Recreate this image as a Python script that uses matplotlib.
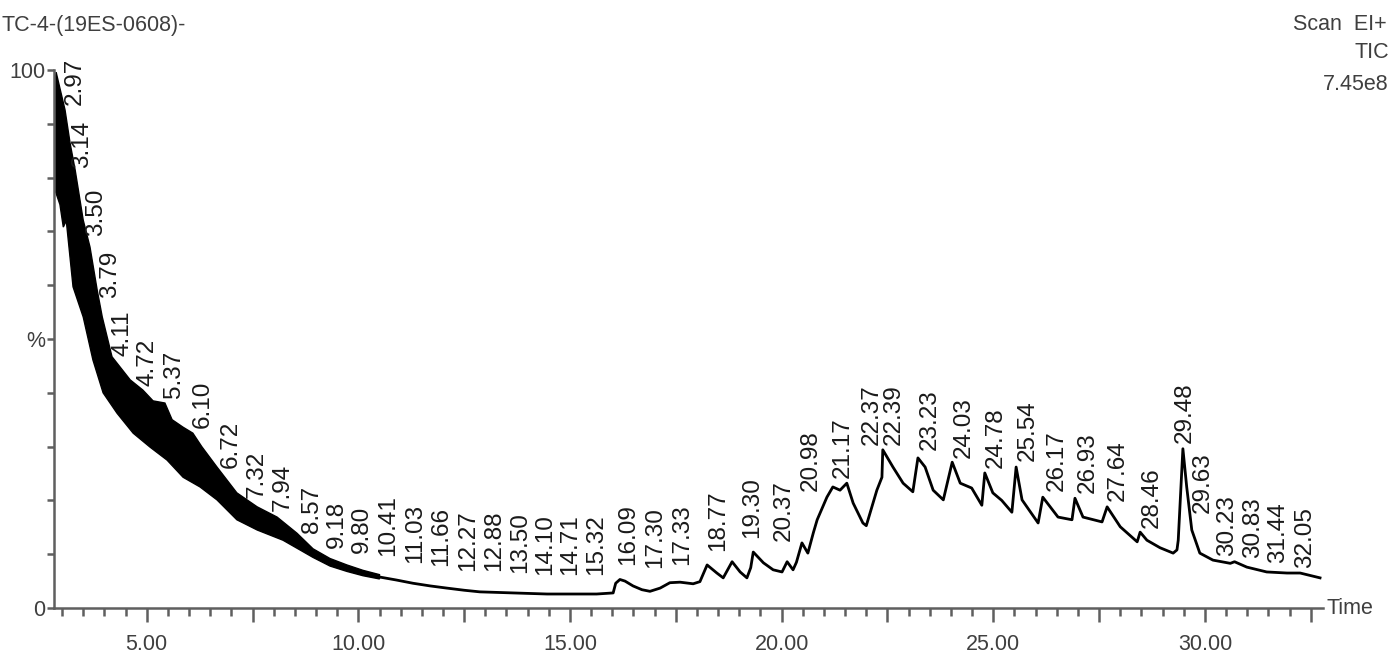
import matplotlib
matplotlib.use("Agg")
import matplotlib.pyplot as plt
from matplotlib.ticker import MultipleLocator, FixedLocator

plt.rcParams['font.family'] = ['Liberation Sans', 'DejaVu Sans']

# ---- data ----
# noisy early region: upper and lower envelope of the dense trace
band_upper_t = [2.82, 2.86, 3.07, 3.19, 3.31, 3.50, 3.66, 3.83, 3.95, 4.18, 4.40, 4.61,
                4.91, 5.15, 5.43, 5.60, 5.86, 6.09, 6.30, 6.66, 7.13, 7.61, 8.08, 8.55,
                8.93, 9.33, 9.73, 10.11, 10.50]
band_upper_y = [97.0, 99.6, 92.6, 86.4, 81.4, 72.1, 67.1, 59.1, 54.1, 46.7, 44.5, 42.4,
                40.5, 38.5, 38.1, 35.0, 33.6, 32.5, 30.0, 26.2, 21.4, 18.8, 16.9, 13.9,
                11.0, 9.2, 8.0, 7.0, 6.2]
band_lower_t = [2.82, 2.95, 3.03, 3.10, 3.26, 3.50, 3.73, 3.97, 4.30, 4.68, 5.08, 5.48,
                5.86, 6.26, 6.66, 7.13, 7.61, 8.22, 8.62, 8.93, 9.33, 9.73, 10.11, 10.50]
band_lower_y = [78.0, 75.0, 70.8, 72.0, 59.7, 54.1, 46.1, 40.0, 36.2, 32.5, 29.9, 27.5,
                24.3, 22.5, 20.1, 16.4, 14.5, 12.6, 10.8, 9.4, 7.8, 6.8, 6.0, 5.4]

# later region: single trace
trace_t = [10.40, 10.90, 11.29, 11.70, 12.09, 12.50, 12.87, 13.27, 13.66, 14.06, 14.46,
           14.85, 15.24, 15.63, 16.02, 16.08, 16.18, 16.30, 16.49, 16.70, 16.89, 17.13,
           17.36, 17.60, 17.91, 18.07, 18.24, 18.47, 18.62, 18.83, 19.02, 19.18, 19.27,
           19.33, 19.57, 19.80, 20.01, 20.13, 20.27, 20.35, 20.48, 20.62, 20.75, 20.84,
           21.07, 21.21, 21.38, 21.54, 21.69, 21.92, 22.00, 22.25, 22.37, 22.39, 22.63,
           22.87, 23.10, 23.22, 23.39, 23.58, 23.82, 24.03, 24.22, 24.49, 24.73, 24.80,
           24.99, 25.20, 25.44, 25.54, 25.68, 26.06, 26.17, 26.53, 26.86, 26.93, 27.12,
           27.57, 27.69, 28.00, 28.40, 28.47, 28.63, 28.94, 29.25, 29.34, 29.37, 29.48,
           29.57, 29.69, 29.88, 30.19, 30.60, 30.70, 30.99, 31.46, 31.94, 32.25, 32.72]
trace_y = [5.9, 5.2, 4.6, 4.1, 3.7, 3.3, 3.0, 2.9, 2.8, 2.7, 2.6,
           2.6, 2.6, 2.6, 2.8, 4.6, 5.3, 5.0, 4.1, 3.4, 3.1, 3.7,
           4.7, 4.8, 4.5, 4.9, 8.0, 6.5, 5.6, 8.6, 6.7, 5.6, 7.5,
           10.4, 8.4, 7.1, 6.7, 8.6, 7.1, 8.5, 12.1, 10.2, 14.0, 16.4,
           20.6, 22.5, 21.9, 23.2, 19.5, 15.8, 15.3, 21.9, 24.3, 29.4, 26.2,
           23.2, 21.6, 27.9, 26.2, 21.9, 20.1, 27.1, 23.2, 22.3, 19.1, 25.1,
           21.4, 20.0, 17.8, 26.2, 20.1, 15.8, 20.6, 16.9, 16.4, 20.4, 16.9,
           16.0, 18.8, 15.1, 12.3, 14.1, 12.6, 11.2, 10.2, 10.8, 12.6, 29.6,
           22.5, 14.5, 10.2, 8.9, 8.3, 8.6, 7.6, 6.7, 6.5, 6.5, 5.6]

# peak annotations: text, anchor time, anchor height (%)
peak_labels = ["2.97", "3.14", "3.50", "3.79", "4.11", "4.72", "5.37", "6.10", "6.72",
               "7.32", "7.94", "8.57", "9.18", "9.80", "10.41", "11.03", "11.66", "12.27",
               "12.88", "13.50", "14.10", "14.71", "15.32", "16.09", "17.30", "17.33",
               "18.77", "19.30", "20.37", "20.98", "21.17", "22.37", "22.39", "23.23",
               "24.03", "24.78", "25.54", "26.17", "26.93", "27.64", "28.46", "29.48",
               "29.63", "30.23", "30.83", "31.44", "32.05"]
label_t = [3.31, 3.47, 3.80, 4.13, 4.44, 5.03, 5.65, 6.33, 6.99, 7.61, 8.22, 8.91, 9.50,
           10.09, 10.70, 11.34, 11.95, 12.59, 13.21, 13.82, 14.41, 15.00, 15.62, 16.37,
           17.01, 17.65, 18.50, 19.30, 20.06, 20.69, 21.45, 22.14, 22.66, 23.51, 24.31,
           25.07, 25.82, 26.51, 27.24, 27.95, 28.75, 29.53, 29.95, 30.52, 31.14, 31.73,
           32.36]
label_y = [93.1, 81.4, 68.8, 57.2, 46.5, 40.9, 38.7, 33.1, 25.7, 20.1, 17.7, 13.6, 10.8,
           9.9, 9.3, 8.0, 7.4, 6.5, 6.5, 6.1, 5.8, 5.8, 5.8, 7.6, 7.1, 7.6, 10.2, 12.6,
           12.1, 21.4, 23.8, 29.9, 29.9, 29.0, 27.5, 25.7, 27.0, 21.4, 21.0, 19.5, 14.5,
           30.3, 17.3, 9.3, 8.9, 8.0, 7.1]

x_tick_labels = {5.0: "5.00", 10.0: "10.00", 15.0: "15.00", 20.0: "20.00",
                 25.0: "25.00", 30.0: "30.00"}
y_tick_labels = {0: "0", 50: "%", 100: "100"}

# ---- figure ----
W, H = 1396, 656
fig = plt.figure(figsize=(W / 100, H / 100), dpi=100)
ax = fig.add_axes([54 / W, 1 - 608 / H, (1323 - 54) / W, (608 - 70) / H])

axis_col = "#5f5f5f"
text_col = "#3f3f3f"

poly_t = band_upper_t + band_lower_t[::-1]
poly_y = band_upper_y + band_lower_y[::-1]
ax.fill(poly_t, poly_y, color="black", lw=1.0, ec="black")
ax.plot(trace_t, trace_y, color="black", lw=2.0, solid_joinstyle="round")

for txt, t, y in zip(peak_labels, label_t, label_y):
    ax.text(t, y + 0.4, txt, rotation=90, ha="center", va="bottom",
            fontsize=17.5, color="#1a1a1a")

ax.set_xlim(2.81, 32.79)
ax.set_ylim(0, 100)

for s in ("top", "right"):
    ax.spines[s].set_visible(False)
for s in ("left", "bottom"):
    ax.spines[s].set_color(axis_col)
    ax.spines[s].set_linewidth(1.8)

# x ticks
xmaj = [2.5 * i for i in range(2, 14)]
ax.xaxis.set_major_locator(FixedLocator(xmaj))
ax.xaxis.set_minor_locator(MultipleLocator(0.5))
ax.set_xticklabels([x_tick_labels.get(v, "") for v in xmaj])
ax.tick_params(axis="x", which="major", length=10, width=1.8, color=axis_col,
               labelsize=15.5, labelcolor=text_col, pad=9)
ax.tick_params(axis="x", which="minor", length=5.5, width=1.8, color=axis_col)

# y ticks
ymaj = list(range(0, 101, 10))
ax.yaxis.set_major_locator(FixedLocator(ymaj))
ax.set_yticklabels([y_tick_labels.get(v, "") for v in ymaj])
ax.tick_params(axis="y", which="major", length=5, width=1.8, color=axis_col,
               labelsize=15.5, labelcolor=text_col, pad=1)

ax.text(1.003, 0, "Time", transform=ax.transAxes, ha="left", va="center",
        fontsize=15.5, color=text_col)

fig.text(1 / W, 1 - 25 / H, "TC-4-(19ES-0608)-", ha="left", va="center",
         fontsize=15.5, color=text_col)
fig.text(1387 / W, 1 - 25 / H, "Scan  EI+", ha="right", va="center",
         fontsize=15.5, color=text_col)
fig.text(1389 / W, 1 - 53 / H, "TIC", ha="right", va="center",
         fontsize=15.5, color=text_col)
fig.text(1389 / W, 1 - 84 / H, "7.45e8", ha="right", va="center",
         fontsize=15.5, color=text_col)

fig.savefig("out.png", dpi=100, facecolor="white")
